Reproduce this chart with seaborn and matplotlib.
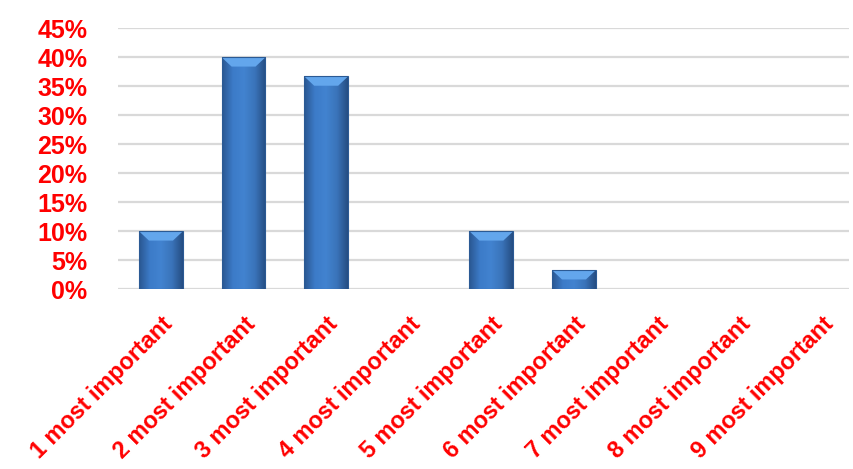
import numpy as np
import pandas as pd
import matplotlib
matplotlib.use("Agg")
import matplotlib.pyplot as plt
import seaborn as sns
from matplotlib.patches import Polygon
from matplotlib.colors import LinearSegmentedColormap

categories = ["1 most important", "2 most important", "3 most important",
              "4 most important", "5 most important", "6 most important",
              "7 most important", "8 most important", "9 most important"]
values = [0.10, 0.40, 0.367, 0.0, 0.10, 0.033, 0.0, 0.0, 0.0]
yticks = [0.0, 0.05, 0.10, 0.15, 0.20, 0.25, 0.30, 0.35, 0.40, 0.45]
ytick_labels = ["0%", "5%", "10%", "15%", "20%", "25%", "30%", "35%", "40%", "45%"]

df = pd.DataFrame({"category": categories, "value": values})

sns.set_theme(style="white")
plt.rcParams["font.family"] = ["Liberation Sans", "DejaVu Sans"]

fig = plt.figure(figsize=(8.54, 4.69), dpi=100)
ax = fig.add_axes([118 / 854, 179.7 / 469, (849 - 118) / 854, (289.3 - 28.3) / 469])

sns.barplot(data=df, x="category", y="value", ax=ax, color="#3a77c2",
            width=0.53, saturation=1, edgecolor="none")

ax.set_ylim(0, 0.45)
ax.set_xlim(-0.52, 8.33)
ax.set_yticks(yticks)
ax.set_yticklabels(ytick_labels, color="#ff0000", fontsize=18, fontweight="bold")
ax.tick_params(axis="y", length=0, pad=22)
ax.tick_params(axis="x", length=0, pad=17)
ax.set_xticks(range(len(categories)))
ax.set_xticklabels(categories, rotation=45, ha="right", va="top",
                   rotation_mode="anchor", color="#ff0000", fontsize=16.8,
                   fontweight="bold")
ax.set_xlabel("")
ax.set_ylabel("")
for s in ax.spines.values():
    s.set_visible(False)
ax.yaxis.grid(True, color="#d9d9d9", linewidth=1.6)
ax.set_axisbelow(True)

# Gradient + bevel effect on each bar
cmap = LinearSegmentedColormap.from_list(
    "bar", ["#2a5690", "#3c7bc8", "#4283d0", "#3a74ba", "#254d82"])
grad = np.linspace(0, 1, 256).reshape(1, -1)
for p in list(ax.patches):
    x, y = p.get_x(), p.get_y()
    w, h = p.get_width(), p.get_height()
    if h <= 0:
        continue
    im = ax.imshow(grad, cmap=cmap, aspect="auto", extent=[x, x + w, y, y + h],
                   zorder=2, interpolation="bicubic")
    im.set_clip_path(p)
    p.set_facecolor("none")
    bh = min(0.016, h * 0.5)
    bw = 0.12
    top = Polygon([[x, y + h], [x + w, y + h], [x + w - bw, y + h - bh],
                   [x + bw, y + h - bh]], closed=True,
                  facecolor="#63a6ec", edgecolor="none", zorder=3)
    ax.add_patch(top)
    ax.add_patch(Polygon([[x, y], [x, y + h], [x + w, y + h], [x + w, y]],
                         closed=True, facecolor="none", edgecolor="#2b5a94",
                         linewidth=0.8, zorder=3))

ax.set_ylim(0, 0.45)
ax.set_xlim(-0.52, 8.33)

fig.savefig("out.png", dpi=100, facecolor="white")
